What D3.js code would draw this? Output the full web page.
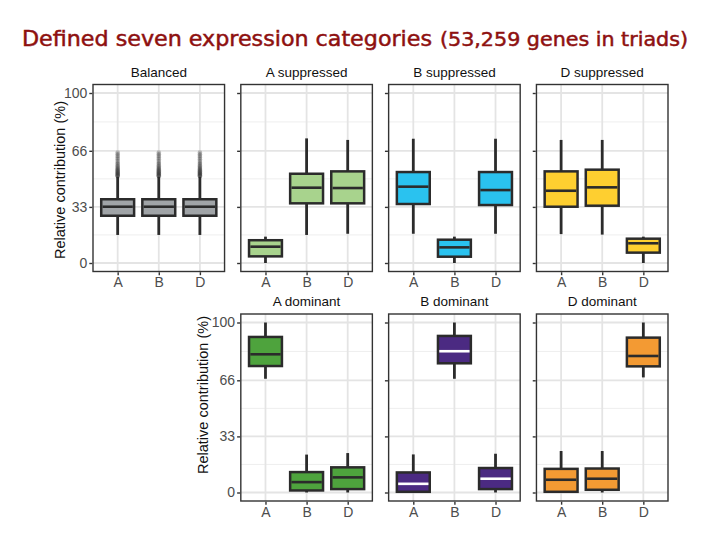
<!DOCTYPE html>
<html><head><meta charset="utf-8">
<script src="https://cdn.jsdelivr.net/npm/d3@7"></script>
<style>body{margin:0;background:#fff}</style>
</head><body><svg id="c" width="720" height="540"></svg>
<script>
// ---- data ----
const panels = ["Balanced","A suppressed","B suppressed","D suppressed","A dominant","B dominant","D dominant"];
const subgenomes = ["A","B","D"];
const yTicks = [0,33,66,100];
const yMinor = [16.5,49.5,83];
const whiskerLow  = [[16.5,16.5,16.5],[0,16.5,17.2],[17.2,0,17.2],[17,16.7,0],[66.9,0,0],[0,66.9,0],[0,0,67.7]];
const q1          = [[27.8,27.8,27.8],[3.9,35.1,35.1],[34.7,3.7,34.1],[33.1,33.7,6.1],[74.4,1.2,2.0],[0.4,76,2.0],[0.4,1.6,74.2]];
const median      = [[33.1,33.1,33.1],[9.6,44.3,44.1],[44.9,9.2,42.9],[42.5,44.5,11.6],[81.3,6.1,8.9],[5.1,83.1,8.1],[7.5,8.1,80.3]];
const q3          = [[37.5,37.5,37.5],[13.4,52.5,53.9],[53.5,13.7,53.5],[53.9,54.9,14.3],[91.5,12.0,14.8],[11.8,92.1,14.4],[13.9,14.1,91.1]];
const whiskerHigh = [[50.8,50.8,50.8],[15.5,73.3,72.4],[73.1,15.5,73.1],[72.4,72.4,15.5],[100,22.3,23.2],[22.4,100,22.8],[24.4,24.4,100]];
const balancedOutliers = [51,51.3,51.6,52,52.4,52.8,53.2,53.6,54,54.5,55,55.5,56,56.7,57.4,58.2,59,60,61,62,63,64,65];
const fills = ["#a0a4a7","#a8d38d","#2ac2ef","#fecf30","#4ea33d","#4b2a82","#f39a33"];
const medianColors = ["#2b2b2b","#2b2b2b","#2b2b2b","#2b2b2b","#2b2b2b","#ffffff","#2b2b2b"];

// ---- layout ----
const panelRow = [0,0,0,0,1,1,1];
const panelCol = [0,1,2,3,1,2,3];
const svg = d3.select("#c");
const colScale = d3.scaleBand().domain([0,1,2,3]).range([93,668]).paddingInner(0.11);
const rowY = [d3.scaleLinear().domain([-5,105]).range([271.5,84.5]),
              d3.scaleLinear().domain([-5,105]).range([501,314])];
const pw = colScale.bandwidth();

// main title
const title = svg.append("text").attr("y",46).attr("fill","#8e1010")
  .attr("stroke","#8e1010").attr("stroke-width",0.45)
  .style("font-family","'DejaVu Sans Condensed','DejaVu Sans',sans-serif");
title.append("tspan").attr("x",22).attr("font-size",21).attr("textLength",410).attr("lengthAdjust","spacingAndGlyphs")
  .text("Defined seven expression categories");
title.append("tspan").attr("x",440).attr("font-size",19).attr("textLength",248).attr("lengthAdjust","spacingAndGlyphs")
  .text("(53,259 genes in triads)");

const font = "'Liberation Sans',Arial,sans-serif";

panels.forEach((name,i)=>{
  const r = panelRow[i], c = panelCol[i];
  const y = rowY[r];
  const x0 = colScale(c);
  const x = d3.scalePoint().domain(subgenomes).range([x0, x0+pw]).padding(0.6);
  const bw = x.step()*0.8;
  const [yb, yt] = y.range();
  const g = svg.append("g");

  // grid
  g.selectAll(".mn").data(yMinor).join("line")
    .attr("x1",x0).attr("x2",x0+pw).attr("y1",d=>y(d)).attr("y2",d=>y(d))
    .attr("stroke","#eeeeee").attr("stroke-width",1);
  g.selectAll(".mj").data(yTicks).join("line")
    .attr("x1",x0).attr("x2",x0+pw).attr("y1",d=>y(d)).attr("y2",d=>y(d))
    .attr("stroke","#e4e4e4").attr("stroke-width",1.8);
  g.selectAll(".vx").data(subgenomes).join("line")
    .attr("x1",d=>x(d)).attr("x2",d=>x(d)).attr("y1",yt).attr("y2",yb)
    .attr("stroke","#e4e4e4").attr("stroke-width",1.8);

  // boxes
  subgenomes.forEach((s,j)=>{
    const cx = x(s);
    g.append("line").attr("x1",cx).attr("x2",cx)
      .attr("y1",y(whiskerLow[i][j])).attr("y2",y(whiskerHigh[i][j]))
      .attr("stroke","#2b2b2b").attr("stroke-width",2.8);
    if(i===0){
      g.selectAll(null).data(balancedOutliers).join("circle")
        .attr("cx",cx).attr("cy",d=>y(d)).attr("r",2.3)
        .attr("fill","#2b2b2b").attr("fill-opacity",0.28);
    }
    g.append("rect").attr("x",cx-bw/2).attr("width",bw)
      .attr("y",y(q3[i][j])).attr("height",y(q1[i][j])-y(q3[i][j]))
      .attr("fill",fills[i]).attr("stroke","#2b2b2b").attr("stroke-width",2.5);
    g.append("line").attr("x1",cx-bw/2+1.3).attr("x2",cx+bw/2-1.3)
      .attr("y1",y(median[i][j])).attr("y2",y(median[i][j]))
      .attr("stroke",medianColors[i]).attr("stroke-width",2.6);
  });

  // panel border
  g.append("rect").attr("x",x0).attr("y",yt).attr("width",pw).attr("height",yb-yt)
    .attr("fill","none").attr("stroke","#333").attr("stroke-width",1.4);

  // y axis ticks
  const first = (i===0 || i===4);
  const ya = d3.axisLeft(y).tickValues(yTicks).tickSize(3).tickPadding(2).tickFormat(first? d3.format("d") : "");
  const yg = svg.append("g").attr("transform",`translate(${x0-0.7},0)`).call(ya);
  yg.select(".domain").remove();
  yg.selectAll(".tick line").attr("stroke","#333").attr("stroke-width",1.4);
  yg.selectAll("text").attr("fill","#4d4d4d").style("font-family",font).style("font-size","14px");

  // x axis
  const xa = d3.axisBottom(x).tickSize(3).tickPadding(2);
  const xg = svg.append("g").attr("transform",`translate(0,${yb+0.7})`).call(xa);
  xg.select(".domain").remove();
  xg.selectAll(".tick line").attr("stroke","#333").attr("stroke-width",1.4);
  xg.selectAll("text").attr("fill","#4d4d4d").style("font-family",font).style("font-size","14px");

  // strip title
  svg.append("text").attr("x",x0+pw/2).attr("y",yt-8).attr("text-anchor","middle")
    .style("font-family",font).style("font-size","13.5px").attr("fill","#111").text(name);

  if(first){
    const cy = r===0 ? 180 : 395;
    const tx = r===0 ? 65 : 208;
    svg.append("text").attr("transform",`translate(${tx},${cy}) rotate(-90)`)
      .attr("text-anchor","middle").style("font-family",font).style("font-size","14.5px")
      .attr("fill","#111").text("Relative contribution (%)");
  }
});
</script></body></html>
